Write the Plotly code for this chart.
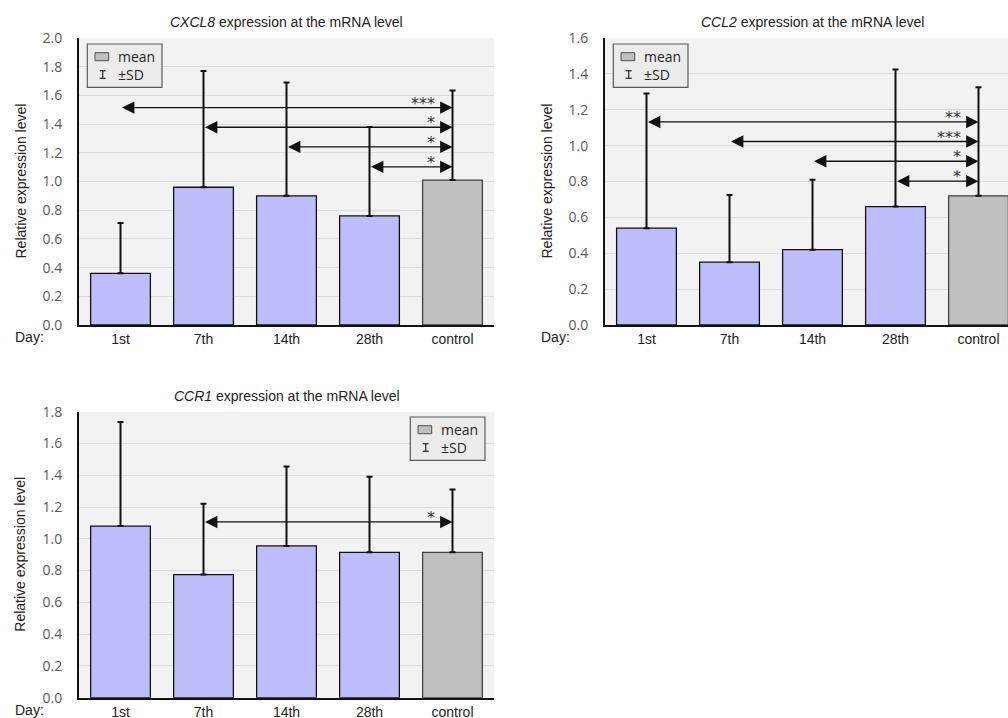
import plotly.graph_objects as go

# ---- data -------------------------------------------------------------
days = ["1st", "7th", "14th", "28th", "control"]

cxcl8_mean = [0.36, 0.96, 0.90, 0.76, 1.01]
cxcl8_sd = [0.35, 0.81, 0.79, 0.62, 0.625]

ccl2_mean = [0.54, 0.35, 0.42, 0.66, 0.72]
ccl2_sd = [0.75, 0.375, 0.39, 0.765, 0.605]

ccr1_mean = [1.08, 0.775, 0.955, 0.915, 0.915]
ccr1_sd = [0.655, 0.445, 0.50, 0.475, 0.395]

# significance versus control: (group, stars)
cxcl8_sig = [("1st", "***"), ("7th", "*"), ("14th", "*"), ("28th", "*")]
ccl2_sig = [("1st", "**"), ("7th", "***"), ("14th", "*"), ("28th", "*")]
ccr1_sig = [("7th", "*")]

# ---- layout constants (page pixels) ------------------------------------
W, H = 1008, 718
panels = [
    # left, top, right, bottom, y max
    dict(left=79, top=38, right=494, bottom=325, ymax=2.0),
    dict(left=605, top=38, right=1008, bottom=325, ymax=1.6),
    dict(left=79, top=411.7, right=494, bottom=697.7, ymax=1.8),
]
cat_px = (494 - 79) / len(days)          # width of one category slot
bracket_levels = [
    [1.515, 1.378, 1.241, 1.102],
    [1.132, 1.023, 0.913, 0.802],
    [1.106],
]
key_pos = [(87.3, 44.0), (613.3, 44.0), (410.3, 417.0)]

BLUE = "#bdbdfb"
GREY = "#c0c0c0"
ARIAL = "Liberation Sans"
UI = "Open Sans"


def px(x):
    return x / W


def py(y):
    return 1 - y / H


fig = go.Figure()

series = [
    ("CXCL8", cxcl8_mean, cxcl8_sd, cxcl8_sig),
    ("CCL2", ccl2_mean, ccl2_sd, ccl2_sig),
    ("CCR1", ccr1_mean, ccr1_sd, ccr1_sig),
]

annotations = []
shapes = []

for i, (gene, mean, sd, sig) in enumerate(series):
    n = "" if i == 0 else str(i + 1)
    p = panels[i]
    xname, yname = "x" + n, "y" + n

    fig.add_trace(go.Bar(
        x=days, y=mean,
        width=0.72,
        marker=dict(
            color=[BLUE] * (len(days) - 1) + [GREY],
            line=dict(color=["#111111"] * (len(days) - 1) + ["#404040"], width=1.3),
        ),
        error_y=dict(type="data", symmetric=False, array=sd,
                     arrayminus=[0] * len(sd), color="#111111",
                     thickness=2, width=3),
        xaxis=xname, yaxis=yname,
        showlegend=False,
    ))

    xmax = -0.5 + (p["right"] - p["left"]) / cat_px
    fig.update_layout(**{
        "xaxis" + n: dict(
            domain=[px(p["left"]), px(p["right"])],
            anchor=yname, type="category", automargin=False,
            range=[-0.5, xmax],
            showline=True, linecolor="#111111", linewidth=2,
            showgrid=False, ticks="", ticklabelstandoff=0,
            tickfont=dict(family=ARIAL, size=14, color="#222222"),
        ),
        "yaxis" + n: dict(
            domain=[py(p["bottom"]), py(p["top"])],
            anchor=xname, automargin=False,
            range=[0, p["ymax"]], dtick=0.2, tick0=0, tickformat=".1f",
            showline=True, linecolor="#111111", linewidth=2,
            showgrid=True, gridcolor="#dcdcdc", gridwidth=1.2,
            zeroline=False, ticks="", ticklabelstandoff=12,
            tickfont=dict(family=UI, size=14, color="#595959"),
        ),
    })

    # panel title
    annotations.append(dict(
        text=f"<i>{gene}</i> expression at the mRNA level",
        xref=xname, x=2, yref=yname + " domain", y=1, yshift=16,
        xanchor="center", yanchor="middle", showarrow=False,
        font=dict(family=ARIAL, size=14, color="#222222"),
    ))
    # y axis title
    annotations.append(dict(
        text="Relative expression level",
        xref=xname + " domain", x=0, xshift=-59,
        yref=yname + " domain", y=0.5, textangle=-90,
        xanchor="center", yanchor="middle", showarrow=False,
        font=dict(family=ARIAL, size=14, color="#222222"),
    ))
    # "Day:" row label
    annotations.append(dict(
        text="Day:", xref="paper", x=px(p["left"] - 66), xanchor="left",
        yref="paper", y=py(p["bottom"] + 12), yanchor="middle",
        showarrow=False, font=dict(family=ARIAL, size=14, color="#222222"),
    ))

    # significance arrows to control
    ctrl = days.index("control")
    for (grp, stars), lvl in zip(sig, bracket_levels[i]):
        annotations.append(dict(
            text="", xref=xname, yref=yname, axref=xname, ayref=yname,
            x=ctrl, y=lvl, ax=days.index(grp), ay=lvl,
            showarrow=True, arrowside="end+start",
            arrowhead=2, startarrowhead=2,
            arrowsize=1.9, startarrowsize=1.9,
            arrowwidth=1.3, arrowcolor="#111111",
            standoff=0, startstandoff=0,
        ))
        annotations.append(dict(
            text=stars, xref=xname, yref=yname, x=ctrl, y=lvl,
            xshift=-16, yshift=-7, xanchor="right", yanchor="bottom",
            showarrow=False,
            font=dict(family="DejaVu Sans", size=16, color="#333333"),
        ))

    # key box: mean / ±SD
    kx, ky = key_pos[i]
    shapes.append(dict(type="rect", xref="paper", yref="paper",
                       x0=px(kx), x1=px(kx + 74.7), y0=py(ky + 43.3), y1=py(ky),
                       fillcolor="#ebebeb", line=dict(color="#5a5a5a", width=1.2)))
    shapes.append(dict(type="rect", xref="paper", yref="paper",
                       x0=px(kx + 7.7), x1=px(kx + 21.4),
                       y0=py(ky + 16.7), y1=py(ky + 8.7),
                       fillcolor=GREY, line=dict(color="#505050", width=1)))
    bx = kx + 15.4
    for seg in [(bx, ky + 26.7, bx, ky + 34.3),
                (bx - 3, ky + 26.7, bx + 3, ky + 26.7),
                (bx - 3, ky + 34.3, bx + 3, ky + 34.3)]:
        shapes.append(dict(type="line", xref="paper", yref="paper",
                           x0=px(seg[0]), y0=py(seg[1]), x1=px(seg[2]), y1=py(seg[3]),
                           line=dict(color="#333333", width=1.3)))
    for label, dy in [("mean", 12.3), ("±SD", 30.3)]:
        annotations.append(dict(
            text=label, xref="paper", yref="paper",
            x=px(kx + 28.5), y=py(ky + dy), xanchor="left", yanchor="middle",
            showarrow=False, font=dict(family=UI, size=14, color="#262626"),
        ))

fig.update_layout(
    width=W, height=H,
    margin=dict(l=0, r=0, t=0, b=0),
    paper_bgcolor="white",
    plot_bgcolor="#f2f2f2",
    annotations=annotations,
    shapes=shapes,
    bargap=0.28,
)

fig.write_html("out.html")
